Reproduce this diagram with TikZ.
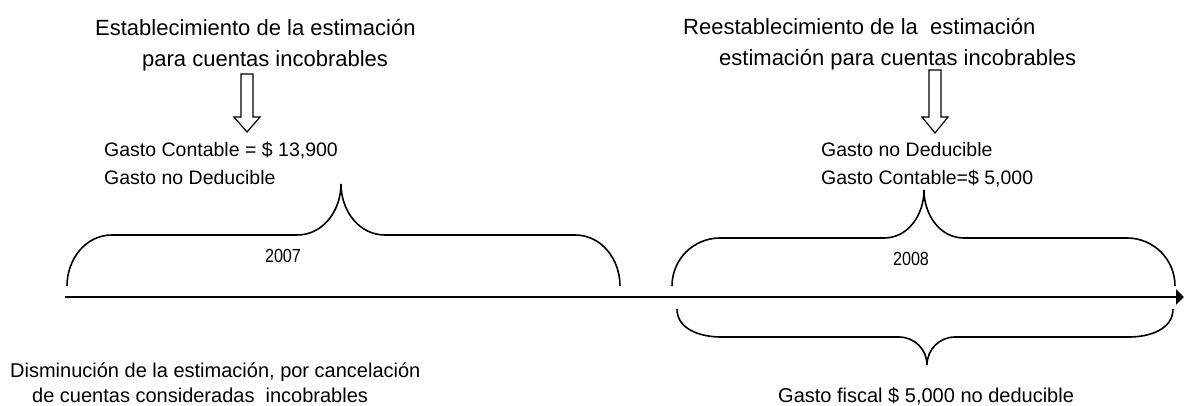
\documentclass[tikz,border=0pt]{standalone}
\usepackage{fontspec}
\setmainfont{Liberation Sans}
\newfontfamily\yearfont{Liberation Sans}[FakeStretch=0.85]
\usetikzlibrary{arrows.meta}
\begin{document}
\begin{tikzpicture}[x=1pt,y=-1pt,
  lbl/.style={inner sep=0pt,anchor=base west},
  title/.style={lbl,font=\fontsize{22}{26}\selectfont},
  note/.style={lbl,font=\fontsize{19.5}{23}\selectfont},
  foot/.style={lbl,font=\fontsize{20}{24}\selectfont},
  year/.style={inner sep=0pt,font=\yearfont\fontsize{19}{22}\selectfont},
  brace/.style={draw=black,line width=1.6pt},
  hollow/.style={draw=black,line width=1.2pt,fill=white,line join=miter},
  axis/.style={draw=black,line width=2.6pt,-{Triangle[length=8pt,width=15pt]}}]
\useasboundingbox (0,0) rectangle (1184,406);

% top-left title and its block arrow
\node[title] (t1a) at (95,36) {Establecimiento de la estimación};
\node[title] (t1b) at (142,67) {para cuentas incobrables};
\draw[hollow] (241,74) -- (253,74) -- (253,117) -- (260,117) -- (247,132)
  -- (234,117) -- (241,117) -- cycle;

% top-right title and its block arrow
\node[title] (t2a) at (683,35) {Reestablecimiento de la\ \ estimación};
\node[title] (t2b) at (719,66) {estimación para cuentas incobrables};
\draw[hollow] (929,70) -- (941,70) -- (941,117) -- (948,117) -- (935,133)
  -- (922,117) -- (929,117) -- cycle;

% expense notes
\node[note] (g1a) at (104,157) {Gasto Contable = \$ 13,900};
\node[note] (g1b) at (104,185) {Gasto no Deducible};
\node[note] (g2a) at (821,157) {Gasto no Deducible};
\node[note] (g2b) at (821,185) {Gasto Contable=\$ 5,000};

% brace over 2007
\coordinate (b1l) at (67,286);
\coordinate (b1r) at (620,286);
\coordinate (b1p) at (341,184);
\draw[brace] (b1l) to[out=90,in=180] (112,235) -- (297,235)
  to[out=0,in=-90] (b1p) to[out=-90,in=180] (385,235) -- (575,235)
  to[out=0,in=90] (b1r);
\node[year] (y1) at (283,256) {2007};

% brace over 2008
\coordinate (b2l) at (672,286);
\coordinate (b2r) at (1175,286);
\coordinate (b2p) at (924,190);
\draw[brace] (b2l) to[out=90,in=180] (720,238) -- (884,238)
  to[out=0,in=-90] (b2p) to[out=-90,in=180] (964,238) -- (1127,238)
  to[out=0,in=90] (b2r);
\node[year] (y2) at (911,259) {2008};

% time axis
\coordinate (a0) at (65,297);
\coordinate (a1) at (1184,297);
\draw[axis] (a0) -- (a1);

% brace under 2008
\coordinate (b3l) at (677,309);
\coordinate (b3r) at (1173,309);
\coordinate (b3p) at (927,365);
\draw[brace] (b3l) to[out=-90,in=180] (721,337) -- (899,337)
  to[out=0,in=90] (b3p) to[out=90,in=180] (955,337) -- (1129,337)
  to[out=0,in=-90] (b3r);

% bottom notes
\node[foot] (d1) at (10,377) {Disminución de la estimación, por cancelación};
\node[foot] (d2) at (32,402) {de cuentas consideradas\ \ incobrables};
\node[foot] (gf) at (778,402) {Gasto fiscal \$ 5,000 no deducible};
\end{tikzpicture}
\end{document}
